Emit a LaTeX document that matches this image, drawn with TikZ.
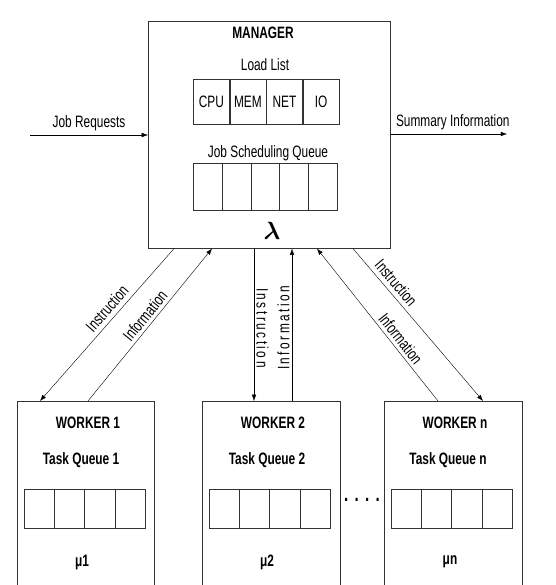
\documentclass[tikz,border=0pt]{standalone}
\usepackage{amsmath}
\usepackage{fontspec}
\setmainfont{Liberation Sans}[FakeStretch=0.72]
\usetikzlibrary{arrows.meta, positioning}
\tikzset{>={Latex[width=1.6mm,length=2.2mm]}}

\begin{document}
\begin{tikzpicture}[x=1pt, y=-1pt, font=\fontsize{16.5}{18}\selectfont,
    box/.style = {draw=black!80, line width=0.6pt, inner sep=0pt},
    cell/.style = {box, minimum height=#1, anchor=west},
    heading/.style = {font=\fontsize{16.5}{18}\selectfont\bfseries},
    spaced/.style = {font=\fontsize{16.5}{18}\selectfont\addfontfeature{LetterSpace=15}}]
    \useasboundingbox (0,0) rectangle (555,585);
    \clip (0,0) rectangle (555,585);
		% manager
		\node (mgr) [box, minimum width=242pt, minimum height=227pt, anchor=north west] at (148,21) {};
		\node (mgrname) [heading] at (263,33) {MANAGER};
		\node (loadname) at (265,65) {Load List};
		\node (cpu) [cell=45pt, minimum width=36pt] at (193,101.5) {CPU};
		\node (mem) [cell=45pt, minimum width=36pt, right=0pt of cpu] {MEM};
		\node (net) [cell=45pt, minimum width=36pt, right=0pt of mem] {NET};
		\node (io) [cell=45pt, minimum width=36pt, right=0pt of net] {IO};
		\node (jsqname) at (268,153) {Job Scheduling Queue};
		\foreach \i in {1,...,5}
		  \node (q\i) [cell=47pt, minimum width=28.8pt] at (193+28.8*\i-28.8,186.5) {};
		\node (lam) at (272,231) {\fontsize{24}{24}\selectfont$\boldsymbol{\lambda}$};
		% workers
		\node (w1) [box, minimum width=137pt, minimum height=200pt, anchor=north west] at (17,401) {};
		\node (w2) [box, minimum width=138pt, minimum height=200pt, anchor=north west] at (202,401) {};
		\node (wn) [box, minimum width=138pt, minimum height=200pt, anchor=north west] at (384,401) {};
		\node (w1name) [heading] at (88,423) {WORKER 1};
		\node (w2name) [heading] at (273,423) {WORKER 2};
		\node (wnname) [heading] at (455,423) {WORKER n};
		\node (t1name) [heading] at (81,460) {Task Queue 1};
		\node (t2name) [heading] at (267,460) {Task Queue 2};
		\node (tnname) [heading] at (448,460) {Task Queue n};
		\foreach \w/\x in {a/24, b/209, c/391}
		  \foreach \i in {1,...,4}
		    \node (\w\i) [cell=39pt, minimum width=30.2pt] at (\x+30.2*\i-30.2,508.5) {};
		\node (mu1) [heading] at (82,562) {μ1};
		\node (mu2) [heading] at (267,562) {μ2};
		\node (mun) [heading] at (450,562) {μn};
		\node (dots) [font=\fontsize{21}{21}\selectfont\bfseries] at (362,500) {\addfontfeature{LetterSpace=30}....};
		% outside flows
		\coordinate (jobin) at (30,135);
		\coordinate (sumout) at (507,134);
		\draw[->, thin] (jobin) -- (mgr.west |- jobin) node [midway, above=1pt] {Job Requests};
		\draw[->, thin] (mgr.east |- sumout) -- (sumout) node [midway, above=1pt, xshift=4pt] {Summary Information};
		% manager <-> workers
		\path[->, thin]
		([xshift=26pt]mgr.south west) edge node [sloped, above=1pt, pos=0.44] {Instruction} ([xshift=23pt]w1.north west)
		([xshift=71pt]w1.north west) edge node [sloped, above=0pt, pos=0.52] {Information} ([xshift=64pt]mgr.south west)
		([xshift=106pt]mgr.south west) edge node [sloped, above=-1pt, pos=0.52, spaced] {Instruction} ([xshift=52pt]w2.north west)
		([xshift=90pt]w2.north west) edge node [sloped, above=-1pt, pos=0.48, spaced] {Information} ([xshift=144pt]mgr.south west)
		([xshift=54pt]wn.north west) edge node [sloped, above=0pt, pos=0.37] {Information} ([xshift=169pt]mgr.south west)
		([xshift=205pt]mgr.south west) edge node [sloped, above=1pt, pos=0.27] {Instruction} ([xshift=99pt]wn.north west);
\end{tikzpicture}
\end{document}
